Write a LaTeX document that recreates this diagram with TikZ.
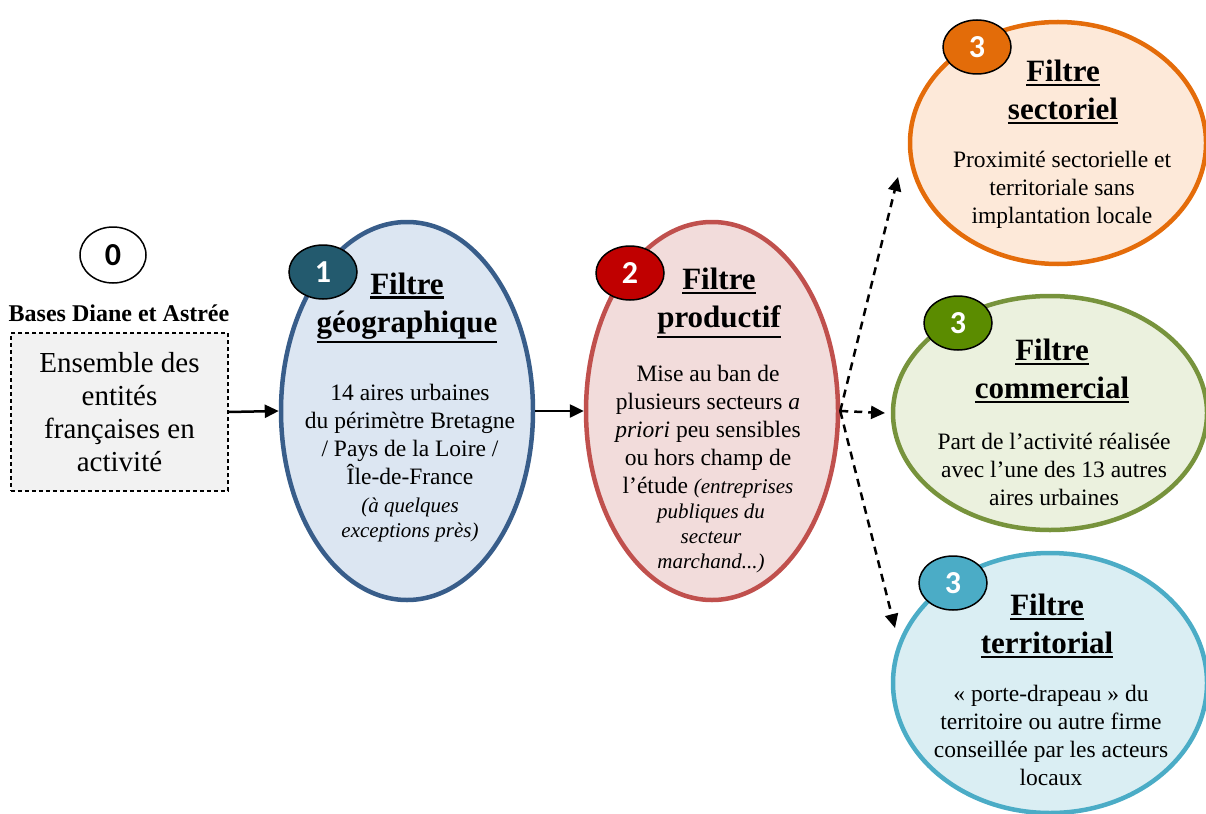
\documentclass[tikz,border=0pt]{standalone}
\usepackage{fontspec}
\setmainfont{Liberation Serif}
\newfontfamily\badgefont{Carlito}
\usetikzlibrary{shapes.geometric,arrows.meta}
\definecolor{eonefill}{HTML}{DCE6F2}
\definecolor{eoneline}{HTML}{385D8A}
\definecolor{bone}{HTML}{235A6E}
\definecolor{etwofill}{HTML}{F2DCDB}
\definecolor{etwoline}{HTML}{C0504D}
\definecolor{btwo}{HTML}{C00000}
\definecolor{esecfill}{HTML}{FDE9D9}
\definecolor{esecline}{HTML}{E46C0A}
\definecolor{bsec}{HTML}{E36C09}
\definecolor{ecomfill}{HTML}{EBF1DE}
\definecolor{ecomline}{HTML}{77933C}
\definecolor{bcom}{HTML}{5B8C00}
\definecolor{eterfill}{HTML}{DAEEF3}
\definecolor{eterline}{HTML}{4BACC6}
\definecolor{bter}{HTML}{4BACC6}
\definecolor{boxfill}{HTML}{F2F2F2}
\newcommand\ftitle{\fontsize{31}{38}\selectfont}
\newcommand\fbody{\fontsize{23.5}{28}\selectfont}
\newcommand\fital{\fontsize{21}{25}\selectfont}
\newcommand\fboxtext{\fontsize{29}{33}\selectfont}
\newcommand\ulx[1]{\leavevmode\setbox0\hbox{#1}\vtop{\hbox{\copy0}\kern2pt\hrule height 2.5pt width \wd0}}
\begin{document}
\begin{tikzpicture}[x=1pt,y=-1pt,
  filtre/.style={ellipse,draw,line width=4.5pt,inner sep=0pt},
  badge/.style={ellipse,draw=black,line width=1.5pt,minimum width=68pt,minimum height=54pt,inner sep=0pt,text=white,font=\badgefont\fontsize{32}{32}\selectfont\bfseries},
  ttl/.style={align=center,inner sep=0pt,font=\ftitle\bfseries},
  bodytext/.style={align=center,inner sep=0pt,font=\fbody},
  itext/.style={align=center,inner sep=0pt,font=\fital\itshape},
  arr/.style={line width=2.5pt,-{Triangle[length=14pt,width=13pt]}},
  darr/.style={arr,dash pattern=on 8pt off 6pt}]
\useasboundingbox (0,0) rectangle (1206,813);
% step 0
\node[ellipse,draw=black,line width=1.5pt,minimum width=66pt,minimum height=56pt,inner sep=0pt,font=\badgefont\fontsize{32}{32}\selectfont\bfseries] (b0) at (113,255) {0};
\node[inner sep=0pt,font=\fontsize{24}{28}\selectfont\bfseries] (bases) at (119,313) {Bases Diane et Astrée};
\node[draw=black,dash pattern=on 4pt off 3pt,line width=1.5pt,fill=boxfill,minimum width=217pt,minimum height=158pt,inner sep=0pt,align=center,font=\fboxtext] (box) at (119.5,412) {Ensemble des\\entités\\françaises en\\activité};
% filter 1
\node[filtre,draw=eoneline,fill=eonefill,minimum width=252pt,minimum height=378pt] (e1) at (407,411) {};
\node[badge,fill=bone] (b1) at (323,272) {1};
\node[ttl] (t1) at (407,308) {\ulx{Filtre}\\\ulx{géographique}};
\node[bodytext] (d1) at (410,434) {14 aires urbaines\\du périmètre Bretagne\\/ Pays de la Loire /\\Île-de-France};
\node[itext] (i1) at (410,520) {(à quelques\\exceptions près)};
% filter 2
\node[filtre,draw=etwoline,fill=etwofill,minimum width=252pt,minimum height=378pt] (e2) at (712,411) {};
\node[badge,fill=btwo] (b2) at (630,273) {2};
\node[ttl] (t2) at (719,303) {\ulx{Filtre}\\\ulx{productif}};
\node[bodytext] (d2) at (708,432) {Mise au ban de\\plusieurs secteurs \textit{a}\\\textit{priori} peu sensibles\\ou hors champ de\\l’étude {\fital\itshape(entreprises}};
\node[itext] (i2) at (711,538) {publiques du\\secteur\\marchand...)};
% filter 3 sectoriel
\node[filtre,draw=esecline,fill=esecfill,minimum width=296pt,minimum height=242pt] (e3a) at (1058,143) {};
\node[badge,fill=bsec] (b3a) at (977,47) {3};
\node[ttl] (t3a) at (1063,92) {\ulx{Filtre}\\\ulx{sectoriel}};
\node[bodytext] (d3a) at (1062,190) {Proximité sectorielle et\\territoriale sans\\implantation locale};
% filter 3 commercial
\node[filtre,draw=ecomline,fill=ecomfill,minimum width=314pt,minimum height=234pt] (e3b) at (1050,413) {};
\node[badge,fill=bcom] (b3b) at (958,323) {3};
\node[ttl] (t3b) at (1052,371) {\ulx{Filtre}\\\ulx{commercial}};
\node[bodytext] (d3b) at (1054,469) {Part de l’activité réalisée\\avec l’une des 13 autres\\aires urbaines};
% filter 3 territorial
\node[filtre,draw=eterline,fill=eterfill,minimum width=314pt,minimum height=260pt] (e3c) at (1050,683) {};
\node[badge,fill=bter] (b3c) at (953,583) {3};
\node[ttl] (t3c) at (1047,626) {\ulx{Filtre}\\\ulx{territorial}};
\node[bodytext] (d3c) at (1051,735) {« porte-drapeau » du\\territoire ou autre firme\\conseillée par les acteurs\\locaux};
% connectors
\coordinate (cup) at (898,177);
\coordinate (cmid) at (885,413);
\coordinate (cdown) at (895,628);
\draw[arr] (box.east) -- (e1.west);
\draw[arr] (e1.east) -- (e2.west);
\draw[darr] (e2.east) -- (cup);
\draw[darr] (e2.east) -- (cmid);
\draw[darr] (e2.east) -- (cdown);
\end{tikzpicture}
\end{document}
